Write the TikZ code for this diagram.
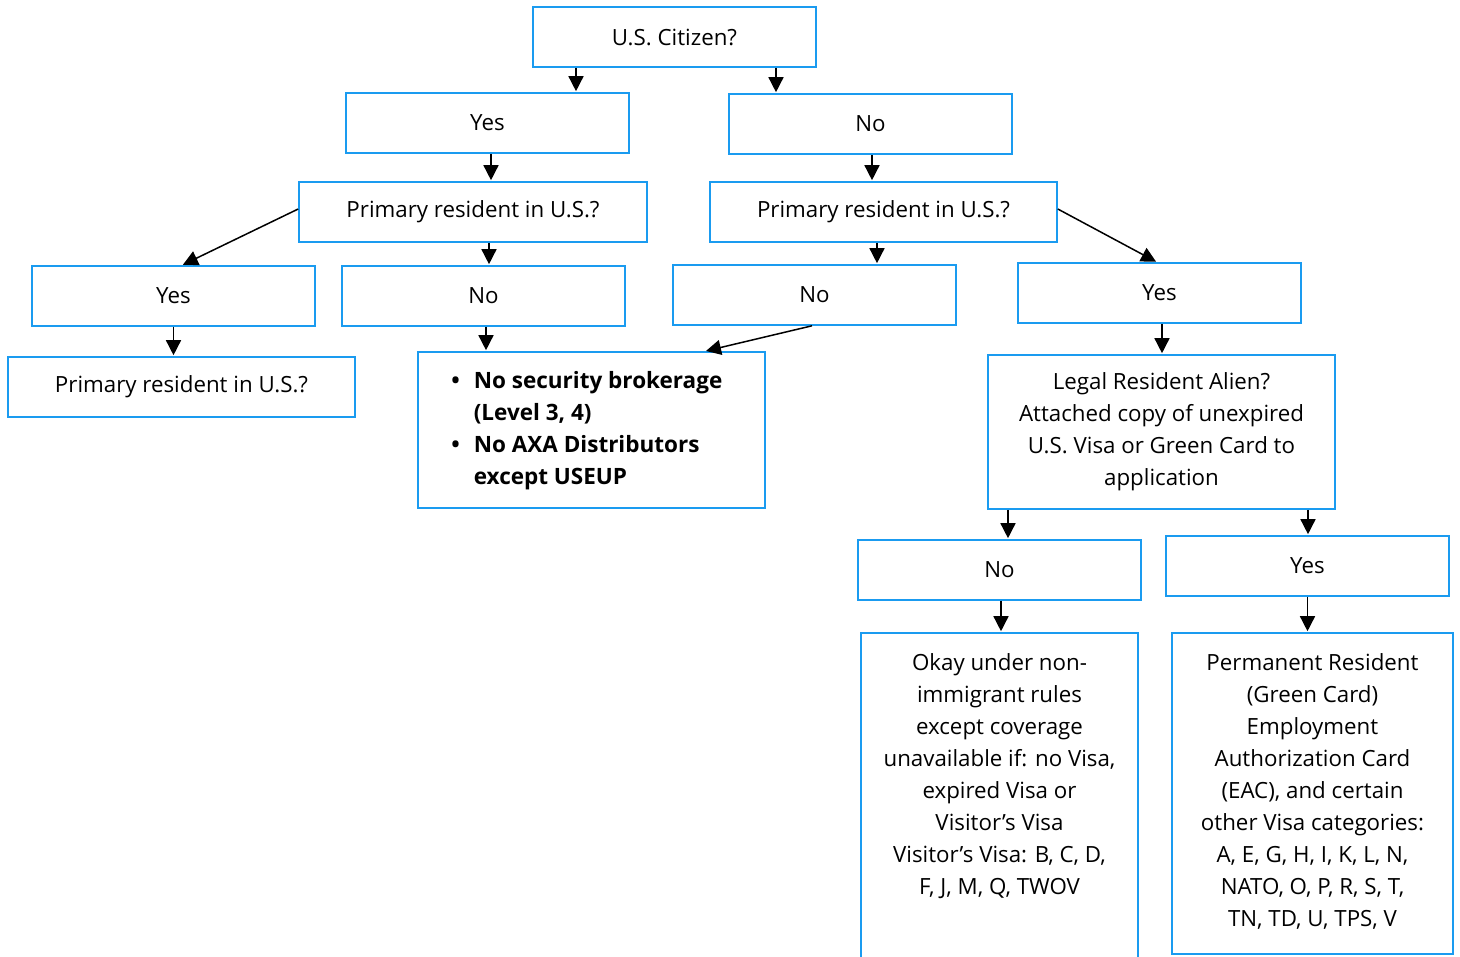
\documentclass[tikz,border=0pt]{standalone}
\usepackage{fontspec}
\setmainfont{Open Sans}
\usetikzlibrary{arrows.meta,calc}
\definecolor{boxblue}{HTML}{1A9BF0}
\begin{document}
\begin{tikzpicture}[x=1pt,y=-1pt,
  box/.style={draw=boxblue, line width=1.6pt, minimum width=283pt, minimum height=60pt, inner sep=0pt, align=center,
    font=\fontsize{22.3}{32}\selectfont},
  arr/.style={line width=1.5pt, -{Triangle[width=15pt,length=15pt]}, shorten >=1pt},
  txt/.style={inner sep=0pt, align=center, font=\fontsize{22.3}{32}\selectfont}]
\useasboundingbox (0,0) rectangle (1460,957);
\node[box] (A) at (674.5,37) {U.S. Citizen?};
\node[box] (B) at (487.5,123) {Yes};
\node[box] (C) at (870.5,124) {No};
\node[box, minimum width=348pt] (D) at (473,212) {Primary resident in U.S.?};
\node[box, minimum width=347pt] (E) at (883.5,212) {Primary resident in U.S.?};
\node[box] (F) at (173.5,296) {Yes};
\node[box] (G) at (483.5,296) {No};
\node[box] (H) at (814.5,295) {No};
\node[box] (I) at (1159.5,293) {Yes};
\node[box, minimum width=347pt] (J) at (181.5,387) {Primary resident in U.S.?};
\node[box, minimum width=347pt, minimum height=156pt] (K) at (591.5,430) {};
\node[txt, anchor=west, font=\fontsize{22.5}{32}\selectfont\bfseries] (Kt) at ([xshift=34pt]K.west)
  {\begin{tabular}{@{}l@{\hspace{14pt}}l@{}}\textbullet & No security brokerage\\ & (Level 3, 4)\\ \textbullet & No AXA Distributors\\ & except USEUP\end{tabular}};
\node[box, minimum width=347pt, minimum height=154pt] (L) at (1161.5,432)
  {Legal Resident Alien?\\Attached copy of unexpired\\U.S. Visa or Green Card to\\application};
\node[box] (M) at (999.5,570) {No};
\node[box] (N) at (1307.5,566) {Yes};
\node[box, minimum width=277pt, minimum height=327pt] (O) at (999.5,796.5) {};
\node[txt, anchor=north] (Ot) at ([yshift=-21pt]O.north)
  {Okay under non-\\immigrant rules\\except coverage\\unavailable if: no Visa,\\expired Visa or\\Visitor’s Visa\\Visitor’s Visa: B, C, D,\\F, J, M, Q, TWOV};
\node[box, minimum width=281pt, minimum height=321pt] (P) at (1312.5,793.5) {};
\node[txt, anchor=north] (Pt) at ([yshift=-21pt]P.north)
  {Permanent Resident\\(Green Card)\\Employment\\Authorization Card\\(EAC), and certain\\other Visa categories:\\A, E, G, H, I, K, L, N,\\NATO, O, P, R, S, T,\\TN, TD, U, TPS, V};
% connectors
\draw[arr] ([xshift=-98.5pt]A.south) -- ([xshift=-98.5pt]A.south |- B.north);
\draw[arr] ([xshift=101.5pt]A.south) -- ([xshift=101.5pt]A.south |- C.north);
\draw[arr] ([xshift=3.5pt]B.south) -- ([xshift=3.5pt]B.south |- D.north);
\draw[arr] ([xshift=1.5pt]C.south) -- ([xshift=1.5pt]C.south |- E.north);
\draw[arr] ([yshift=3pt]D.west) -- ([xshift=8.5pt]F.north);
\draw[arr] ([xshift=16pt]D.south) -- ([xshift=16pt]D.south |- G.north);
\draw[arr] ([xshift=-6.5pt]E.south) -- ([xshift=-6.5pt]E.south |- H.north);
\draw[arr] ([yshift=3pt]E.east) -- ([xshift=-2.5pt]I.north);
\draw[arr] (F.south) -- (F.south |- J.north);
\draw[arr] ([xshift=2.5pt]G.south) -- ([xshift=2.5pt]G.south |- K.north);
\draw[arr] ([xshift=-2.5pt]H.south) -- ([xshift=113.5pt]K.north);
\draw[arr] ([xshift=2.5pt]I.south) -- ([xshift=2.5pt]I.south |- L.north);
\draw[arr] ([xshift=-153.5pt]L.south) -- ([xshift=-153.5pt]L.south |- M.north);
\draw[arr] ([xshift=146.5pt]L.south) -- ([xshift=146.5pt]L.south |- N.north);
\draw[arr] ([xshift=1.5pt]M.south) -- ([xshift=1.5pt]M.south |- O.north);
\draw[arr] (N.south) -- (N.south |- P.north);
\end{tikzpicture}
\end{document}
